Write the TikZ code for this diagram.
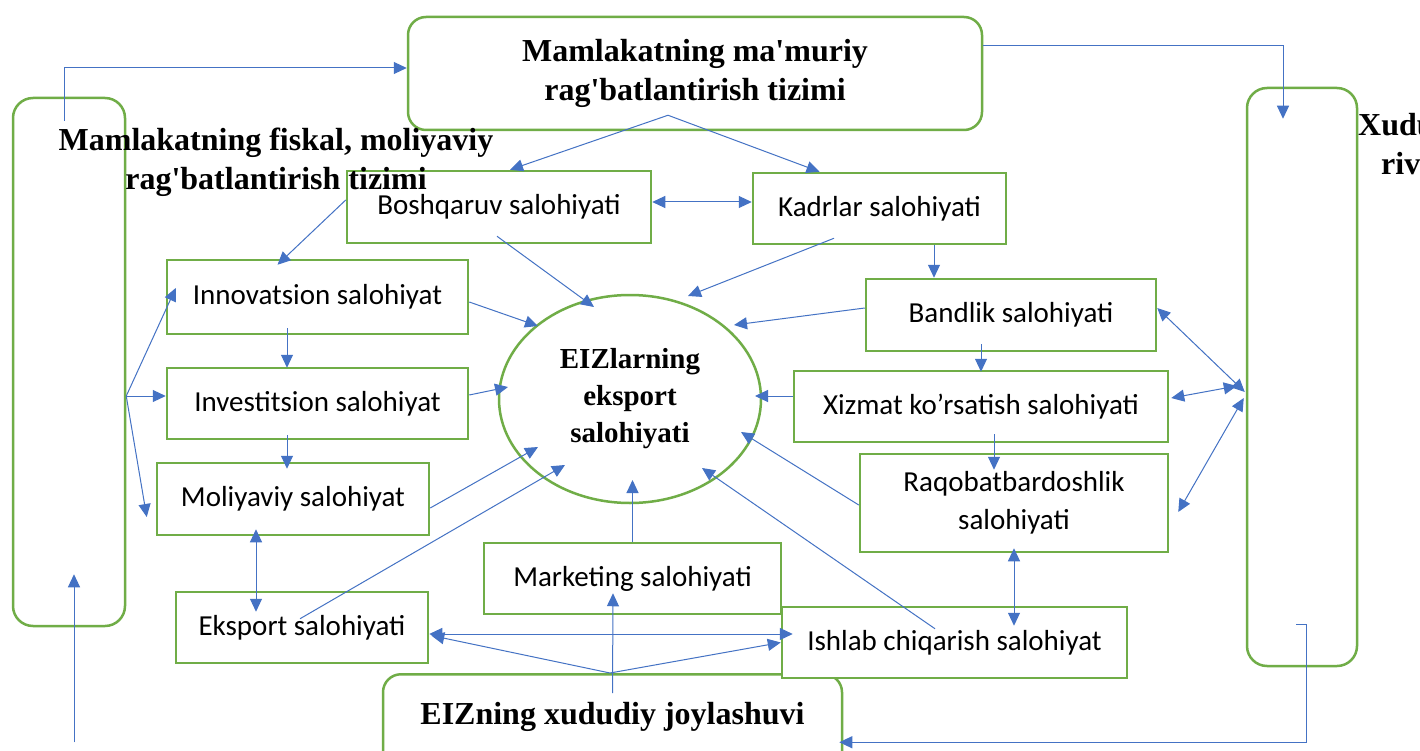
\documentclass[tikz,border=0pt]{standalone}
\usepackage{fontspec}
\newfontfamily\headfont{Liberation Serif}
\newfontfamily\boxfont{Carlito}
\usetikzlibrary{arrows.meta,shapes.geometric}
\definecolor{gr}{HTML}{70AD47}
\definecolor{bl}{HTML}{4472C4}
\begin{document}
\begin{tikzpicture}[x=1pt,y=-1pt,
  box/.style={draw=gr,line width=2.5pt,fill=white,inner sep=0pt,font=\boxfont\fontsize{29}{38}\selectfont,align=center},
  rbox/.style={draw=gr,line width=2.5pt,fill=white,rounded corners=18pt,inner sep=0pt},
  head/.style={font=\headfont\bfseries\fontsize{32}{39}\selectfont,align=center},
  arr/.style={draw=bl,line width=1pt,-{Triangle[length=13pt,width=12pt]}},
  darr/.style={draw=bl,line width=1pt,{Triangle[length=13pt,width=12pt]}-{Triangle[length=13pt,width=12pt]}},
]
\path[use as bounding box,clip] (0,0) rectangle (1420,751);
\fill[white] (0,0) rectangle (1420,751);

% frames
\node[rbox,rounded corners=20pt,minimum width=112pt,minimum height=528pt] (leftbox) at (69,362) {};
\node[rbox,rounded corners=20pt,minimum width=110pt,minimum height=578pt] (rightbox) at (1302,377) {};
\node[rbox,head,minimum width=574pt,minimum height=113pt] (top) at (695,73.5) {Mamlakatning ma'muriy\\rag'batlantirish tizimi};
\node[rbox,head,anchor=north,minimum width=459pt,text height=50pt,text depth=57pt,inner ysep=0pt] (bottom) at (612.5,673) {EIZning xududiy joylashuvi};

% centre
\node[ellipse,draw=gr,line width=2.5pt,fill=white,minimum width=262pt,minimum height=208pt,inner sep=0pt,align=center,font=\headfont\bfseries\fontsize{29}{37}\selectfont] (eiz) at (630,399) {EIZlarning\\eksport\\salohiyati};

% boxes
\node[box,minimum width=304pt,minimum height=72pt] (bosh) at (499,207) {Boshqaruv salohiyati};
\node[box,minimum width=253pt,minimum height=71pt] (kadr) at (879.5,208.5) {Kadrlar salohiyati};
\node[box,minimum width=301pt,minimum height=74pt] (innov) at (317.5,297) {Innovatsion salohiyat};
\node[box,minimum width=301pt,minimum height=71pt] (invest) at (317.5,403.5) {Investitsion salohiyat};
\node[box,minimum width=272pt,minimum height=72pt] (moliya) at (293,499) {Moliyaviy salohiyat};
\node[box,minimum width=290pt,minimum height=72pt] (band) at (1011,315) {Bandlik salohiyati};
\node[box,minimum width=374pt,minimum height=71pt] (xizmat) at (981,406.5) {Xizmat ko’rsatish salohiyati};
\node[box,minimum width=308pt,minimum height=98pt] (raqob) at (1014,503) {Raqobatbardoshlik\\salohiyati};
\node[box,minimum width=297pt,minimum height=71pt] (market) at (632.5,578.5) {Marketing salohiyati};
\node[box,minimum width=252pt,minimum height=71pt] (eksport) at (302,627.5) {Eksport salohiyati};
\node[box,minimum width=345pt,minimum height=71pt] (ishlab) at (954.5,642.5) {Ishlab chiqarish salohiyat};

% overflowing frame labels
\node[head,anchor=center] (leftlabel) at (276,162) {Mamlakatning fiskal, moliyaviy\\rag'batlantirish tizimi};
\node[head,align=left,anchor=base west,inner sep=0pt] (rightlabel) at (1358,175) {Xududlarning\\\hspace*{23pt}rivojlanishi};

% connectors
\coordinate (lf) at ([yshift=-34pt]leftbox.east);
\coordinate (tapex) at ([xshift=-27pt,yshift=16pt]top.south);
\coordinate (bapex) at ([xshift=-2.5pt]bottom.north);
\coordinate (lbs) at ([xshift=5pt,yshift=-115pt]leftbox.south);

\draw[arr] ([xshift=-5pt,yshift=-24pt]leftbox.north) |- ([yshift=5.5pt]top.west);
\draw[arr] ([yshift=27.5pt]top.east) -| ([xshift=-19pt,yshift=-32pt]rightbox.north);
\draw[arr] (tapex) -- ([xshift=11pt]bosh.north);
\draw[arr] (tapex) -- ([xshift=-60pt]kadr.north);
\draw[darr] ([yshift=5pt]bosh.east) -- ([yshift=5pt]bosh.east -| kadr.west);
\draw[arr] ([yshift=7pt]bosh.west) -- ([xshift=-40pt,yshift=-6pt]innov.north);
\draw[arr] ([xshift=-2pt,yshift=8pt]bosh.south) -- ([xshift=-36pt,yshift=92pt]eiz.center);
\draw[arr] ([xshift=-45.5pt,yshift=7pt]kadr.south) -- ([xshift=58pt,yshift=103pt]eiz.center);
\draw[arr] ([xshift=54.5pt]kadr.south) -- ([xshift=-77pt]band.north);
\draw[arr] ([yshift=-5pt]innov.east) -- ([xshift=-92pt,yshift=73pt]eiz.center);
\draw[arr] ([xshift=-30.5pt,yshift=7pt]innov.south) -- ([xshift=-30.5pt,yshift=-1pt]invest.north);
\draw[arr] ([yshift=8.5pt]invest.east) -- ([xshift=-122pt,yshift=12pt]eiz.center);
\draw[arr] ([xshift=-30.5pt,yshift=5pt]invest.south) -- ([xshift=-6pt,yshift=-7pt]moliya.north);
\draw[arr] (lf) -- ([xshift=10pt,yshift=9pt]innov.west);
\draw[arr] (lf) -- ([yshift=7.5pt]invest.west);
\draw[arr] (lf) -- ([xshift=-9pt,yshift=-18pt]moliya.west);
\draw[arr] ([yshift=-9pt]moliya.east) -- ([xshift=-92pt,yshift=-48pt]eiz.center);
\draw[arr] ([xshift=-2pt,yshift=-28pt]eksport.north) -- ([xshift=-65pt,yshift=-66pt]eiz.center);
\draw[darr] ([xshift=-37pt,yshift=7pt]moliya.south) -- ([xshift=-46pt,yshift=-21pt]eksport.north);
\draw[arr] (market.north) -- ([xshift=2.5pt,yshift=-81pt]eiz.center);
\draw[arr] ([yshift=7pt]band.west) -- ([xshift=104pt,yshift=74pt]eiz.center);
\draw[arr] ([xshift=-30pt,yshift=8pt]band.south) -- ([yshift=-2pt]xizmat.north);
\draw[arr] ([yshift=10.5pt]xizmat.west) -- ([xshift=125pt,yshift=3pt]eiz.center);
\draw[arr] ([xshift=13pt,yshift=9pt]xizmat.south) -- ([xshift=-20pt,yshift=-17pt]raqob.north);
\draw[arr] ([yshift=-2pt]raqob.west) -- ([xshift=111pt,yshift=-33pt]eiz.center);
\draw[arr] ([xshift=-19.5pt,yshift=-23pt]ishlab.north) -- ([xshift=72pt,yshift=-69pt]eiz.center);
\draw[darr] ([yshift=5pt]raqob.south) -- ([xshift=59.5pt,yshift=-20pt]ishlab.north);
\draw[darr] ([yshift=-6.5pt]eksport.east) -- ([xshift=12pt,yshift=8.5pt]ishlab.west);
\draw[arr] (bapex) -- ([xshift=2pt,yshift=-8pt]eksport.east);
\draw[arr] (bapex) -- (ishlab.west);
\draw[arr] ([yshift=-20pt]bottom.north) -- ([xshift=-19.5pt,yshift=22pt]market.south);
\draw[darr] ([yshift=7pt]band.east) -- ([xshift=-1pt,yshift=-15pt]rightbox.west);
\draw[darr] ([xshift=2pt,yshift=8.5pt]xizmat.east) -- ([xshift=-9pt,yshift=-9pt]rightbox.west);
\draw[darr] ([xshift=9pt,yshift=-9pt]raqob.east) -- ([xshift=-2pt,yshift=-21pt]rightbox.west);
\draw[arr] ([xshift=-6pt,yshift=43pt]rightbox.south) -- ++(10,0) |- ([xshift=-4pt,yshift=-14.5pt]bottom.east);
\draw[arr] (lbs) -- ([xshift=5pt,yshift=53pt]leftbox.south);
\end{tikzpicture}
\end{document}
